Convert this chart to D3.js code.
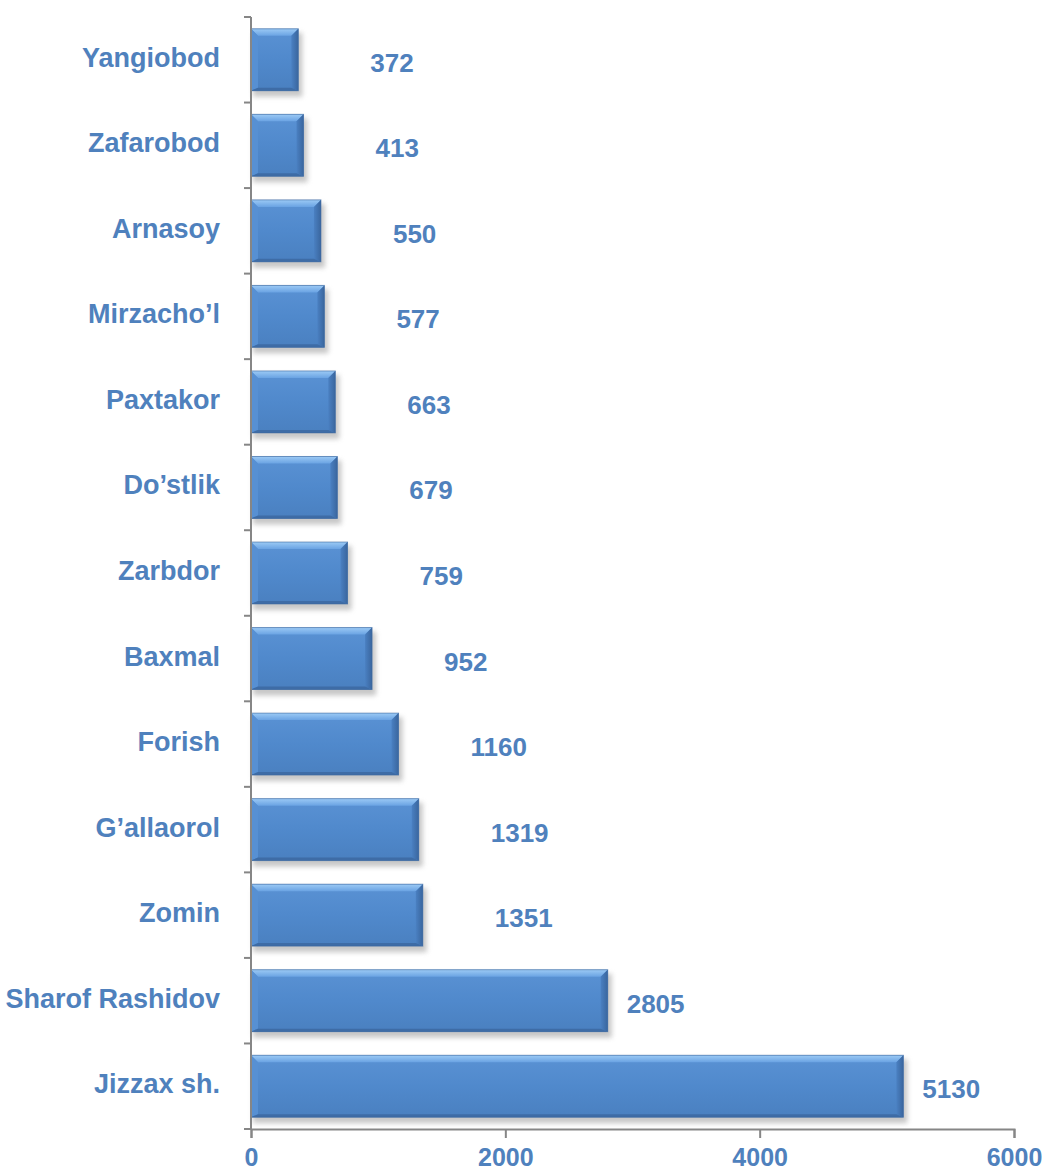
<!DOCTYPE html>
<html><head><meta charset="utf-8">
<script src="https://cdn.jsdelivr.net/npm/d3@7"></script>
<style>
html,body{margin:0;padding:0;background:#fff;overflow:hidden;}
text{font-family:"Liberation Sans",Arial,sans-serif;font-weight:bold;fill:#4f81bd;}
</style></head>
<body>
<script>
const categories = ["Yangiobod","Zafarobod","Arnasoy","Mirzacho’l","Paxtakor","Do’stlik","Zarbdor","Baxmal","Forish","G’allaorol","Zomin","Sharof Rashidov","Jizzax sh."];
const values = [372,413,550,577,663,679,759,952,1160,1319,1351,2805,5130];
const xTicks = [0,2000,4000,6000];

const W = 1046, H = 1172;
const svg = d3.select("body").append("svg").attr("width",W).attr("height",H).style("display","block");
const defs = svg.append("defs");
const f = defs.append("filter").attr("id","sh").attr("x","-10%").attr("y","-30%").attr("width","130%").attr("height","170%");
f.append("feGaussianBlur").attr("stdDeviation",2.5);

const gMain = defs.append("linearGradient").attr("id","gm").attr("x1",0).attr("y1",0).attr("x2",0).attr("y2",1);
gMain.append("stop").attr("offset","0%").attr("stop-color","#5a92d4");
gMain.append("stop").attr("offset","50%").attr("stop-color","#5089cc");
gMain.append("stop").attr("offset","100%").attr("stop-color","#4a80c0");
const gTop = defs.append("linearGradient").attr("id","gt").attr("x1",0).attr("y1",0).attr("x2",0).attr("y2",1);
gTop.append("stop").attr("offset","0%").attr("stop-color","#9ccaf5");
gTop.append("stop").attr("offset","100%").attr("stop-color","#6aa3e3");
const gRight = defs.append("linearGradient").attr("id","gr").attr("x1",0).attr("y1",0).attr("x2",1).attr("y2",0);
gRight.append("stop").attr("offset","0%").attr("stop-color","#4a80c2");
gRight.append("stop").attr("offset","100%").attr("stop-color","#3a669e");

const x = d3.scaleLinear().domain([0,6000]).range([251,1014]);
const y = d3.scaleBand().domain(categories).range([17,1129]).paddingInner(0.276).paddingOuter(0.138);
const step = y.step(), bw = y.bandwidth();

// bars
const bars = svg.append("g").selectAll("g").data(categories).join("g");
bars.each(function(c,i){
  const g = d3.select(this);
  const x0 = x(0), x1 = x(values[i]), y0 = y(c), y1 = y0 + bw;
  const b = 7;
  g.append("rect").attr("x",x0+2).attr("y",y0+4).attr("width",x1-x0+2).attr("height",bw+2)
    .attr("fill","#9a9a9a").attr("opacity",0.55).attr("filter","url(#sh)");
  g.append("rect").attr("x",x0).attr("y",y0).attr("width",x1-x0).attr("height",bw).attr("fill","url(#gm)");
  g.append("polygon").attr("points",[[x0,y0],[x1,y0],[x1-b,y0+b],[x0+b,y0+b]].join(" ")).attr("fill","url(#gt)");
  g.append("polygon").attr("points",[[x0,y0],[x0+b,y0+b],[x0+b,y1-3],[x0,y1]].join(" ")).attr("fill","#5790d3");
  g.append("polygon").attr("points",[[x1,y0],[x1,y1],[x1-b,y1-3],[x1-b,y0+b]].join(" ")).attr("fill","url(#gr)");
  g.append("polygon").attr("points",[[x0,y1],[x1,y1],[x1-b,y1-3],[x0+b,y1-3]].join(" ")).attr("fill","#3e6ca6");
  g.append("rect").attr("x",x0).attr("y",y0).attr("width",x1-x0).attr("height",bw)
    .attr("fill","none").attr("stroke","#3c679e").attr("stroke-width",1).attr("stroke-opacity",0.6);
});

// y axis
const axisColor = "#868686";
svg.append("line").attr("x1",x(0)).attr("x2",x(0)).attr("y1",y.range()[0]).attr("y2",y.range()[1])
  .attr("stroke",axisColor).attr("stroke-width",2);
const boundaries = categories.map(c => y(c) - (step-bw)/2).concat([y.range()[1]]);
svg.append("g").selectAll("line").data(boundaries).join("line")
  .attr("x1",x(0)-7).attr("x2",x(0)).attr("y1",d=>d).attr("y2",d=>d)
  .attr("stroke",axisColor).attr("stroke-width",2);

// category labels
svg.append("g").selectAll("text").data(categories).join("text")
  .attr("x",220).attr("y",c=>y(c)+bw/2-2).attr("text-anchor","end").attr("dominant-baseline","central")
  .attr("font-size",27).text(c=>c);

// value labels
svg.append("g").selectAll("text").data(values).join("text")
  .attr("x",v=>x(v)+(v>2000?19:72)).attr("y",(v,i)=>y(categories[i])+bw/2+3).attr("dominant-baseline","central")
  .attr("font-size",26).text(v=>v);

// x axis
const xa = svg.append("g").attr("transform",`translate(0,${y.range()[1]})`)
  .call(d3.axisBottom(x).tickValues(xTicks).tickSize(9).tickPadding(10).tickFormat(d3.format("d")));
xa.attr("font-family",null).attr("font-size",null);
xa.select(".domain").attr("stroke",axisColor).attr("stroke-width",2);
xa.selectAll(".tick line").attr("stroke",axisColor).attr("stroke-width",2);
xa.selectAll(".tick text").attr("font-size",25).attr("fill","#4f81bd");
</script>
</body></html>
